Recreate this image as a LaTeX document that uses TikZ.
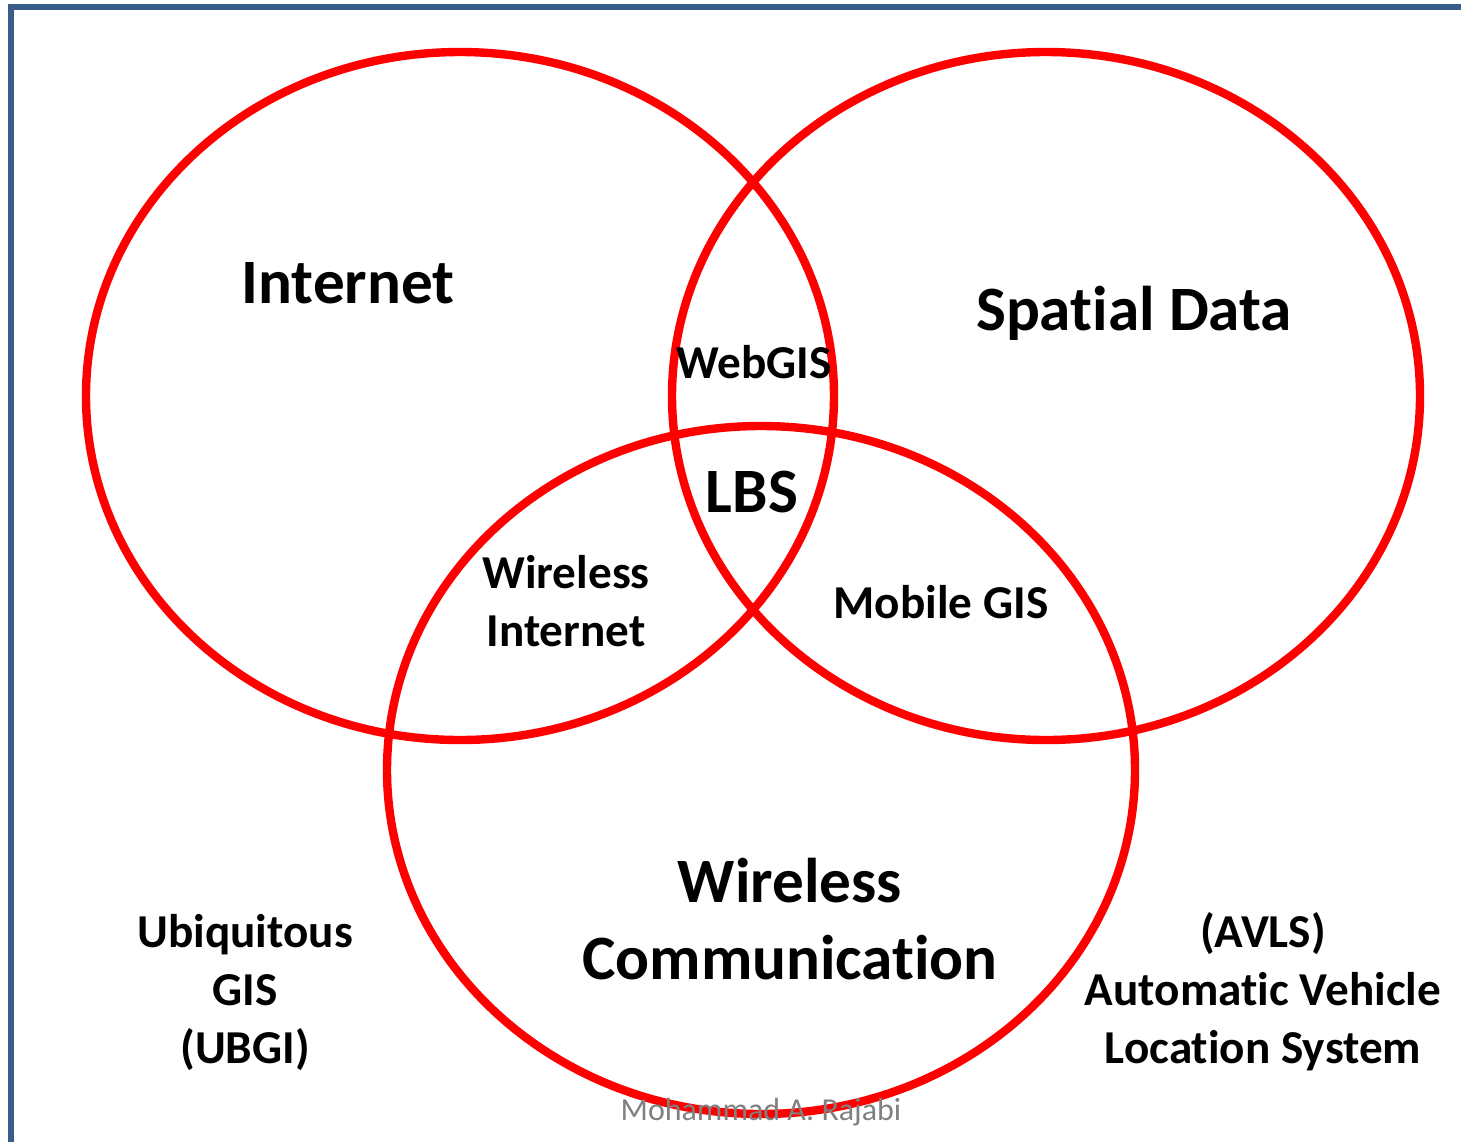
\documentclass[tikz,border=0pt]{standalone}
\usepackage{fontspec}
\setmainfont{Carlito}[Ligatures={NoCommon,NoRare,NoContextual},Contextuals=NoAlternate]
\usetikzlibrary{shapes.geometric,positioning}
\definecolor{myred}{RGB}{255,0,0}
\definecolor{myblue}{RGB}{56,93,138}
\definecolor{mygray}{RGB}{128,128,128}

\begin{document}
\begin{tikzpicture}[x=0.5pt, y=-0.5pt,
    set/.style = {shape=ellipse, draw=myred, line width=4.2pt, inner sep=0pt,
      minimum width=374pt, minimum height=344pt},
    big/.style = {align=center, inner sep=0pt,
      font=\fontsize{31.6}{38.5}\selectfont\bfseries},
    small/.style = {align=center, inner sep=0pt,
      font=\fontsize{23.6}{29}\selectfont\bfseries}]
  \useasboundingbox (0,0) rectangle (1461,1142);
  % frame
  \draw[myblue, line width=3pt] (10.5,1142) -- (10.5,7) -- (1461,7);
  % the three sets
  \node[set] (internet) at (460,396) {};
  \node[set] (spatial) at (1046,396) {};
  \node[set] (wireless) at (761,770) {};
  % labels (\kern0pt keeps t and i apart)
  \node[big] (internetlbl) at (348,283) {Internet};
  \node[big] (spatiallbl) at (1134,313) {Spat\kern0pt ial Data};
  \node[big] (lbs) at (752,492) {LBS};
  \node[big] (wirelesslbl) at (790,919) {Wireless\\Communicat\kern0pt ion};
  \node[small] (webgis) at (754,362) {WebGIS};
  \node[small] (wirelessnet) at (566,601) {Wireless\\Internet};
  \node[small] (mobilegis) at (941,602) {Mobile GIS};
  \node[small] (ubgi) at (245,992) {Ubiquitous\\GIS\\(UBGI)};
  \node[small] (avls) at (1263,992) {(AVLS)\\Automat\kern0pt ic Vehicle\\Location System};
  \node[inner sep=0pt, text=mygray, font=\fontsize{16}{19}\selectfont]
    (author) at (761,1112) {Mohammad A. Rajabi};
\end{tikzpicture}
\end{document}
